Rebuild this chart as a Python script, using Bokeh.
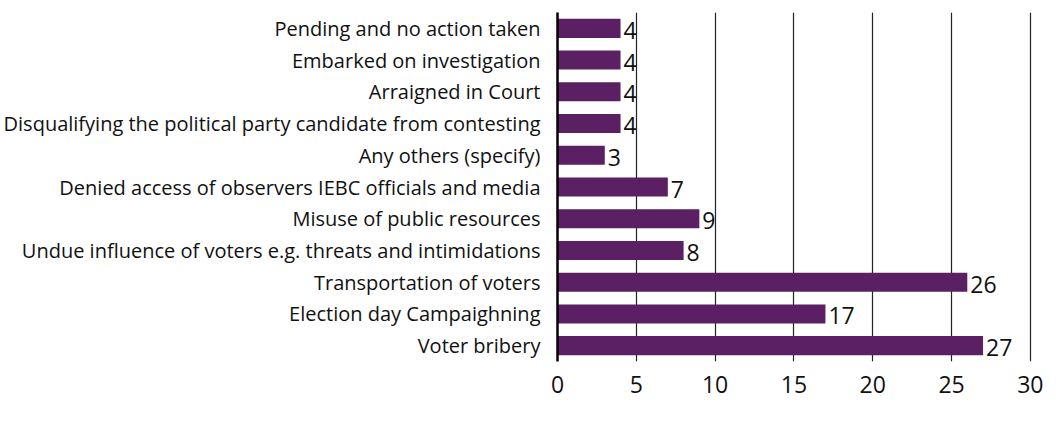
from bokeh.plotting import figure
from bokeh.models import ColumnDataSource, FixedTicker, Range1d, FactorRange, LabelSet
from bokeh.core.properties import value
from bokeh.embed import file_html
from bokeh.resources import INLINE

categories = [
    "Pending and no action taken",
    "Embarked on investigation",
    "Arraigned in Court",
    "Disqualifying the political party candidate from contesting",
    "Any others (specify)",
    "Denied access of observers IEBC officials and media",
    "Misuse of public resources",
    "Undue influence of voters e.g. threats and intimidations",
    "Transportation of voters",
    "Election day Campaighning",
    "Voter bribery",
]
counts = [4, 4, 4, 4, 3, 7, 9, 8, 26, 17, 27]
x_ticks = [0, 5, 10, 15, 20, 25, 30]

FONT = "Open Sans"
BAR = "#5b1f63"

src = ColumnDataSource(dict(cat=categories, val=counts, lab=[str(v) for v in counts]))

p = figure(
    width=1048, height=414,
    y_range=FactorRange(factors=list(reversed(categories)), range_padding=0),
    x_range=Range1d(0, 30.2),
    output_backend="svg", toolbar_location=None,
    min_border_left=0, min_border_right=15, min_border_top=12, min_border_bottom=53,
)
p.outline_line_color = None
p.background_fill_color = "white"
p.border_fill_color = "white"

p.hbar(y="cat", right="val", left=0, height=0.6, source=src,
       fill_color=BAR, line_color=None)

labels = LabelSet(x="val", y="cat", text="lab", source=src, x_offset=3, y_offset=-2,
                  text_font=value(FONT), text_font_size="23px", text_color="#111111",
                  text_baseline="middle", text_align="left")
p.add_layout(labels)

p.xaxis.ticker = FixedTicker(ticks=x_ticks)
p.xaxis.axis_line_color = None
p.xaxis.major_tick_line_color = None
p.xaxis.minor_tick_line_color = None
p.xaxis.major_label_text_font = FONT
p.xaxis.major_label_text_font_size = "23px"
p.xaxis.major_label_text_color = "#111111"
p.xaxis.major_label_standoff = 8

p.yaxis.axis_line_color = "black"
p.yaxis.axis_line_width = 2.5
p.yaxis.major_tick_line_color = None
p.yaxis.minor_tick_line_color = None
p.yaxis.major_label_text_font = FONT
p.yaxis.major_label_text_font_size = "20px"
p.yaxis.major_label_text_color = "#111111"
p.yaxis.major_label_standoff = 11

p.ygrid.grid_line_color = None
p.xgrid.ticker = FixedTicker(ticks=x_ticks[1:])
p.xgrid.grid_line_color = "#222222"
p.xgrid.grid_line_width = 1.2

open("out.html", "w").write(file_html(p, INLINE))
